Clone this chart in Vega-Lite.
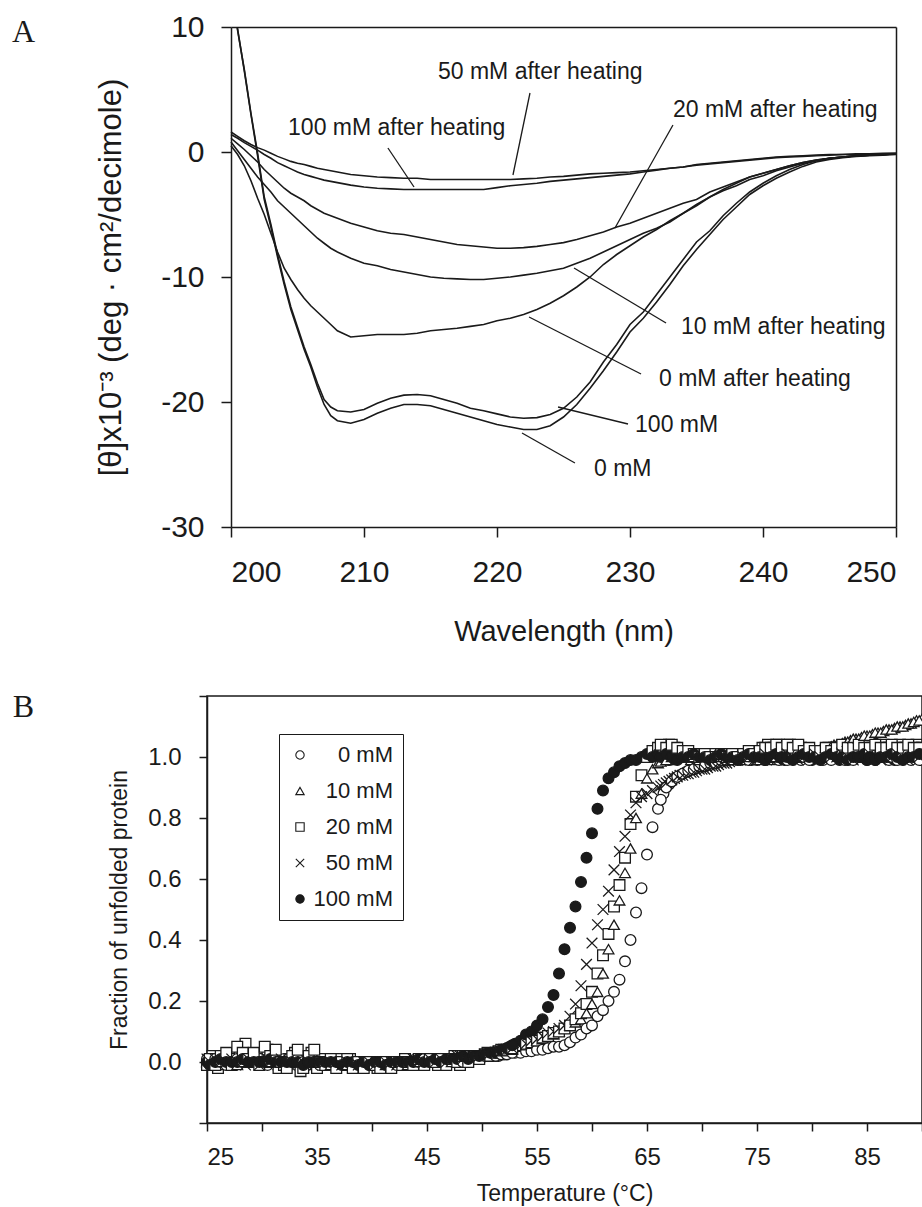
{
"$schema": "https://vega.github.io/schema/vega-lite/v6.json",
"padding": {"left": 11, "top": 12, "right": 0, "bottom": 0},
"config": {
  "font": "Liberation Sans",
  "view": {"stroke": "#1a1a1a", "strokeWidth": 1.5},
  "axis": {"grid": false, "domainColor": "#1a1a1a", "tickColor": "#1a1a1a", "labelColor": "#1a1a1a", "titleColor": "#1a1a1a", "labelFont": "Liberation Sans", "titleFont": "Liberation Sans", "titleFontWeight": "normal", "domainWidth": 1.5, "tickWidth": 1.5},
  "legend": {"labelFont": "Liberation Sans", "labelColor": "#1a1a1a"}
},
"resolve": {"scale": {"shape": "independent", "fill": "independent", "stroke": "independent"}, "legend": {"shape": "independent", "fill": "independent", "stroke": "independent"}},
"concat": [
{
  "width": 689, "height": 500,
  "view": {"stroke": null},
  "resolve": {"axis": {"x": "independent", "y": "independent"}},
  "layer": [
    {
      "data": {"values": [
{"x":200,"n0":13.8,"n100":13.5,"h0":0.5,"h10":0.8,"h20":1.1,"h50":1.6,"h100":1.4},
{"x":200.5,"n0":9.8,"n100":9.7,"h0":-0.2,"h10":0.1,"h20":0.65,"h50":1.25,"h100":1.1},
{"x":201,"n0":6.5,"n100":6.6,"h0":-1.1,"h10":-0.6,"h20":0.2,"h50":0.9,"h100":0.75},
{"x":201.5,"n0":3.0,"n100":3.1,"h0":-2.3,"h10":-1.3,"h20":-0.3,"h50":0.6,"h100":0.45},
{"x":202,"n0":-0.3,"n100":-0.1,"h0":-3.7,"h10":-2.0,"h20":-0.8,"h50":0.35,"h100":0.15},
{"x":202.5,"n0":-3.8,"n100":-3.6,"h0":-5.0,"h10":-2.6,"h20":-1.4,"h50":0.15,"h100":-0.2},
{"x":203,"n0":-6.0,"n100":-5.8,"h0":-6.5,"h10":-3.2,"h20":-1.9,"h50":-0.1,"h100":-0.5},
{"x":203.5,"n0":-8.4,"n100":-8.2,"h0":-8.0,"h10":-3.9,"h20":-2.4,"h50":-0.35,"h100":-0.85},
{"x":204,"n0":-10.6,"n100":-10.4,"h0":-9.3,"h10":-4.4,"h20":-2.9,"h50":-0.55,"h100":-1.1},
{"x":204.5,"n0":-12.6,"n100":-12.4,"h0":-10.2,"h10":-4.9,"h20":-3.3,"h50":-0.75,"h100":-1.35},
{"x":205,"n0":-14.2,"n100":-14.0,"h0":-11.0,"h10":-5.4,"h20":-3.6,"h50":-0.9,"h100":-1.6},
{"x":205.5,"n0":-15.8,"n100":-15.6,"h0":-11.7,"h10":-5.9,"h20":-3.9,"h50":-1.0,"h100":-1.8},
{"x":206,"n0":-17.2,"n100":-17.0,"h0":-12.3,"h10":-6.4,"h20":-4.3,"h50":-1.15,"h100":-1.95},
{"x":206.5,"n0":-18.8,"n100":-18.5,"h0":-12.8,"h10":-6.9,"h20":-4.6,"h50":-1.3,"h100":-2.1},
{"x":207,"n0":-20.2,"n100":-19.8,"h0":-13.3,"h10":-7.3,"h20":-4.9,"h50":-1.4,"h100":-2.25},
{"x":207.5,"n0":-21.1,"n100":-20.4,"h0":-13.8,"h10":-7.7,"h20":-5.1,"h50":-1.5,"h100":-2.35},
{"x":208,"n0":-21.5,"n100":-20.7,"h0":-14.3,"h10":-8.0,"h20":-5.3,"h50":-1.6,"h100":-2.45},
{"x":209,"n0":-21.7,"n100":-20.8,"h0":-14.8,"h10":-8.5,"h20":-5.7,"h50":-1.8,"h100":-2.65},
{"x":210,"n0":-21.4,"n100":-20.6,"h0":-14.7,"h10":-8.9,"h20":-6.0,"h50":-1.9,"h100":-2.8},
{"x":211,"n0":-20.9,"n100":-20.1,"h0":-14.6,"h10":-9.1,"h20":-6.3,"h50":-2.0,"h100":-2.9},
{"x":212,"n0":-20.5,"n100":-19.7,"h0":-14.6,"h10":-9.4,"h20":-6.5,"h50":-2.05,"h100":-2.95},
{"x":213,"n0":-20.2,"n100":-19.45,"h0":-14.6,"h10":-9.6,"h20":-6.6,"h50":-2.1,"h100":-3.0},
{"x":214,"n0":-20.2,"n100":-19.4,"h0":-14.5,"h10":-9.8,"h20":-6.8,"h50":-2.1,"h100":-3.0},
{"x":215,"n0":-20.3,"n100":-19.5,"h0":-14.3,"h10":-10.0,"h20":-7.0,"h50":-2.2,"h100":-3.0},
{"x":216,"n0":-20.6,"n100":-19.8,"h0":-14.2,"h10":-10.1,"h20":-7.2,"h50":-2.2,"h100":-3.0},
{"x":217,"n0":-20.9,"n100":-20.1,"h0":-14.1,"h10":-10.15,"h20":-7.4,"h50":-2.2,"h100":-3.0},
{"x":218,"n0":-21.2,"n100":-20.5,"h0":-13.95,"h10":-10.2,"h20":-7.5,"h50":-2.2,"h100":-3.0},
{"x":219,"n0":-21.5,"n100":-20.7,"h0":-13.8,"h10":-10.2,"h20":-7.6,"h50":-2.2,"h100":-3.0},
{"x":220,"n0":-21.8,"n100":-20.95,"h0":-13.5,"h10":-10.1,"h20":-7.7,"h50":-2.2,"h100":-2.85},
{"x":221,"n0":-22.0,"n100":-21.2,"h0":-13.3,"h10":-10.0,"h20":-7.7,"h50":-2.2,"h100":-2.7},
{"x":222,"n0":-22.2,"n100":-21.3,"h0":-13.0,"h10":-9.85,"h20":-7.65,"h50":-2.15,"h100":-2.6},
{"x":223,"n0":-22.2,"n100":-21.25,"h0":-12.6,"h10":-9.7,"h20":-7.55,"h50":-2.1,"h100":-2.5},
{"x":224,"n0":-21.9,"n100":-21.0,"h0":-12.1,"h10":-9.5,"h20":-7.4,"h50":-2.0,"h100":-2.35},
{"x":225,"n0":-21.2,"n100":-20.5,"h0":-11.5,"h10":-9.3,"h20":-7.25,"h50":-1.95,"h100":-2.25},
{"x":226,"n0":-20.2,"n100":-19.6,"h0":-10.8,"h10":-8.9,"h20":-7.0,"h50":-1.85,"h100":-2.15},
{"x":227,"n0":-18.9,"n100":-18.4,"h0":-10.0,"h10":-8.5,"h20":-6.7,"h50":-1.75,"h100":-2.05},
{"x":228,"n0":-17.5,"n100":-16.8,"h0":-9.0,"h10":-8.0,"h20":-6.4,"h50":-1.7,"h100":-1.95},
{"x":229,"n0":-16.0,"n100":-15.4,"h0":-8.2,"h10":-7.5,"h20":-6.0,"h50":-1.65,"h100":-1.85},
{"x":230,"n0":-14.4,"n100":-13.8,"h0":-7.5,"h10":-7.0,"h20":-5.7,"h50":-1.6,"h100":-1.75},
{"x":231,"n0":-13.3,"n100":-12.8,"h0":-6.8,"h10":-6.5,"h20":-5.3,"h50":-1.5,"h100":-1.6},
{"x":232,"n0":-12.0,"n100":-11.4,"h0":-6.2,"h10":-6.1,"h20":-4.9,"h50":-1.4,"h100":-1.45},
{"x":233,"n0":-10.6,"n100":-10.0,"h0":-5.5,"h10":-5.6,"h20":-4.5,"h50":-1.3,"h100":-1.3},
{"x":234,"n0":-9.1,"n100":-8.6,"h0":-4.9,"h10":-4.9,"h20":-4.1,"h50":-1.2,"h100":-1.2},
{"x":235,"n0":-7.8,"n100":-7.2,"h0":-4.2,"h10":-4.3,"h20":-3.8,"h50":-1.0,"h100":-1.05},
{"x":236,"n0":-6.6,"n100":-6.3,"h0":-3.6,"h10":-3.6,"h20":-3.2,"h50":-0.9,"h100":-0.95},
{"x":237,"n0":-5.4,"n100":-5.1,"h0":-3.1,"h10":-3.0,"h20":-2.8,"h50":-0.8,"h100":-0.85},
{"x":238,"n0":-4.4,"n100":-4.1,"h0":-2.7,"h10":-2.5,"h20":-2.4,"h50":-0.7,"h100":-0.75},
{"x":239,"n0":-3.4,"n100":-3.2,"h0":-2.2,"h10":-2.0,"h20":-2.0,"h50":-0.6,"h100":-0.65},
{"x":240,"n0":-2.7,"n100":-2.5,"h0":-1.9,"h10":-1.7,"h20":-1.7,"h50":-0.5,"h100":-0.55},
{"x":241,"n0":-2.1,"n100":-1.9,"h0":-1.5,"h10":-1.4,"h20":-1.4,"h50":-0.4,"h100":-0.45},
{"x":242,"n0":-1.6,"n100":-1.4,"h0":-1.2,"h10":-1.1,"h20":-1.1,"h50":-0.35,"h100":-0.4},
{"x":243,"n0":-1.15,"n100":-1.0,"h0":-0.9,"h10":-0.85,"h20":-0.85,"h50":-0.3,"h100":-0.35},
{"x":244,"n0":-0.8,"n100":-0.7,"h0":-0.7,"h10":-0.65,"h20":-0.65,"h50":-0.25,"h100":-0.3},
{"x":245,"n0":-0.6,"n100":-0.5,"h0":-0.5,"h10":-0.5,"h20":-0.5,"h50":-0.2,"h100":-0.25},
{"x":246,"n0":-0.45,"n100":-0.4,"h0":-0.4,"h10":-0.4,"h20":-0.4,"h50":-0.2,"h100":-0.2},
{"x":247,"n0":-0.35,"n100":-0.3,"h0":-0.3,"h10":-0.3,"h20":-0.3,"h50":-0.15,"h100":-0.2},
{"x":248,"n0":-0.3,"n100":-0.25,"h0":-0.25,"h10":-0.25,"h20":-0.25,"h50":-0.15,"h100":-0.15},
{"x":249,"n0":-0.25,"n100":-0.2,"h0":-0.2,"h10":-0.2,"h20":-0.2,"h50":-0.1,"h100":-0.15},
{"x":250,"n0":-0.2,"n100":-0.15,"h0":-0.15,"h10":-0.15,"h20":-0.15,"h50":-0.1,"h100":-0.1}
      ]},
      "transform": [{"fold": ["n0","n100","h0","h10","h20","h50","h100"], "as": ["series","y"]}],
      "mark": {"type": "line", "clip": true, "strokeWidth": 1.6, "color": "#1a1a1a"},
      "encoding": {
        "x": {"field": "x", "type": "quantitative", "scale": {"domain": [200, 250], "range": [24, 689], "nice": false, "zero": false},
              "axis": {"values": [200,210,220,230,240,250], "title": "Wavelength (nm)", "titleFontSize": 29, "titlePadding": 30, "labelFontSize": 30, "labelPadding": 20, "tickSize": 10}},
        "y": {"field": "y", "type": "quantitative", "scale": {"domain": [-30, 10], "nice": false, "zero": false},
              "axis": {"values": [-30,-20,-10,0,10], "offset": -24, "labelExpr": "replace(datum.label, '−', '-')", "title": "[θ]x10⁻³ (deg · cm²/decimole)", "titleFontSize": 31, "titlePadding": 33, "labelFontSize": 30, "labelPadding": 17, "tickSize": 10}},
        "detail": {"field": "series"}
      }
    },
    {
      "data": {"values": [
        {"x":222.48,"y":4.72,"x2":221.2,"y2":-1.84},
        {"x":211.8,"y":0.32,"x2":213.76,"y2":-2.8},
        {"x":233.23,"y":2.16,"x2":228.87,"y2":-6.08},
        {"x":225.79,"y":-9.28,"x2":232.71,"y2":-13.68},
        {"x":222.41,"y":-13.2,"x2":230.83,"y2":-17.76},
        {"x":224.59,"y":-20.4,"x2":229.85,"y2":-21.76},
        {"x":221.88,"y":-22.48,"x2":225.86,"y2":-24.88}
      ]},
      "mark": {"type": "rule", "strokeWidth": 1.3, "color": "#1a1a1a"},
      "encoding": {
        "x": {"field": "x", "type": "quantitative", "scale": {"domain": [200, 250], "range": [24, 689], "nice": false, "zero": false},
              "axis": {"orient": "top", "domain": true, "ticks": false, "labels": false, "title": null}},
        "y": {"field": "y", "type": "quantitative", "scale": {"domain": [-30, 10], "nice": false, "zero": false},
              "axis": {"orient": "right", "domain": true, "ticks": false, "labels": false, "title": null}},
        "x2": {"field": "x2"}, "y2": {"field": "y2"}
      }
    },
    {
      "data": {"values": [
        {"x":215.56,"y":6.4,"label":"50 mM after heating"},
        {"x":204.29,"y":1.92,"label":"100 mM after heating"},
        {"x":233.23,"y":3.36,"label":"20 mM after heating"},
        {"x":233.83,"y":-14.0,"label":"10 mM after heating"},
        {"x":232.18,"y":-18.16,"label":"0 mM after heating"},
        {"x":230.38,"y":-21.84,"label":"100 mM"},
        {"x":227.29,"y":-25.36,"label":"0 mM"}
      ]},
      "mark": {"type": "text", "align": "left", "baseline": "middle", "fontSize": 23, "color": "#1a1a1a"},
      "encoding": {
        "x": {"field": "x", "type": "quantitative", "scale": {"domain": [200, 250], "range": [24, 689], "nice": false, "zero": false}, "axis": null},
        "y": {"field": "y", "type": "quantitative", "scale": {"domain": [-30, 10], "nice": false, "zero": false}, "axis": null},
        "text": {"field": "label"}
      }
    },
    {
      "data": {"values": [{"x": 184.4, "y": 9.6, "label": "A"}]},
      "mark": {"type": "text", "align": "center", "baseline": "middle", "fontSize": 32, "font": "Liberation Serif", "color": "#1a1a1a"},
      "encoding": {
        "x": {"field": "x", "type": "quantitative", "scale": {"domain": [200, 250], "range": [24, 689], "nice": false, "zero": false}, "axis": null},
        "y": {"field": "y", "type": "quantitative", "scale": {"domain": [-30, 10], "nice": false, "zero": false}, "axis": null},
        "text": {"field": "label"}
      }
    }
  ]
},
{
  "width": 715, "height": 427,
  "layer": [
    {
      "data": {"values": [
{"t":25,"a":0.01,"b":0,"c":-0.01,"d":0.01,"e":0},
{"t":25.5,"a":0,"b":0.01,"c":0.02,"d":-0.01,"e":0.01},
{"t":26,"a":-0.01,"b":0,"c":-0.02,"d":0,"e":0},
{"t":26.5,"a":0.01,"b":-0.01,"c":0.01,"d":0.01,"e":0},
{"t":27,"a":0,"b":0.01,"c":0.02,"d":0,"e":0.01},
{"t":27.5,"a":0,"b":0,"c":0.01,"d":0.01,"e":0},
{"t":28,"a":0.01,"b":0,"c":0.04,"d":0,"e":0},
{"t":28.5,"a":0,"b":0.01,"c":0.06,"d":-0.01,"e":0.01},
{"t":29,"a":0,"b":0,"c":0.02,"d":0.01,"e":0},
{"t":29.5,"a":0.01,"b":0,"c":0,"d":0,"e":0},
{"t":30,"a":0,"b":0.01,"c":0.01,"d":0,"e":0},
{"t":30.5,"a":-0.01,"b":0,"c":0.04,"d":0.01,"e":0},
{"t":31,"a":0,"b":0,"c":0.03,"d":0,"e":0},
{"t":31.5,"a":0,"b":-0.01,"c":-0.02,"d":0,"e":0.01},
{"t":32,"a":0.01,"b":0,"c":-0.01,"d":0,"e":0},
{"t":32.5,"a":0,"b":0,"c":0.01,"d":-0.01,"e":0},
{"t":33,"a":0,"b":0.01,"c":0.03,"d":0,"e":0},
{"t":33.5,"a":-0.01,"b":0,"c":-0.03,"d":0,"e":0},
{"t":34,"a":0,"b":0,"c":0.01,"d":0.01,"e":-0.01},
{"t":34.5,"a":0,"b":-0.01,"c":0.03,"d":0,"e":0},
{"t":35,"a":0,"b":0,"c":-0.02,"d":0,"e":0},
{"t":35.5,"a":0,"b":0,"c":0.01,"d":-0.01,"e":0},
{"t":36,"a":-0.01,"b":0,"c":0,"d":0,"e":0},
{"t":36.5,"a":0,"b":-0.01,"c":-0.01,"d":0,"e":-0.01},
{"t":37,"a":0,"b":0,"c":0.01,"d":0,"e":0},
{"t":37.5,"a":-0.01,"b":0,"c":-0.01,"d":-0.01,"e":0},
{"t":38,"a":0,"b":-0.01,"c":0.01,"d":0,"e":-0.01},
{"t":38.5,"a":0,"b":0,"c":-0.01,"d":0,"e":0},
{"t":39,"a":-0.01,"b":0,"c":0,"d":-0.01,"e":0},
{"t":39.5,"a":0,"b":-0.01,"c":-0.01,"d":0,"e":-0.01},
{"t":40,"a":-0.01,"b":0,"c":0,"d":-0.01,"e":0},
{"t":40.5,"a":0,"b":-0.01,"c":-0.02,"d":0,"e":-0.01},
{"t":41,"a":-0.01,"b":0,"c":0,"d":0,"e":0},
{"t":41.5,"a":0,"b":0,"c":-0.01,"d":-0.01,"e":0},
{"t":42,"a":0,"b":-0.01,"c":0,"d":0,"e":0},
{"t":42.5,"a":0,"b":0,"c":-0.01,"d":0,"e":0},
{"t":43,"a":0,"b":0,"c":0.01,"d":0,"e":0},
{"t":43.5,"a":0,"b":0.01,"c":0,"d":0,"e":0},
{"t":44,"a":0.01,"b":0,"c":-0.01,"d":0,"e":0},
{"t":44.5,"a":0,"b":0,"c":0.01,"d":0.01,"e":0},
{"t":45,"a":0,"b":0.01,"c":0,"d":0,"e":0.01},
{"t":45.5,"a":0.01,"b":0,"c":0.01,"d":0.01,"e":0},
{"t":46,"a":0,"b":0.01,"c":-0.01,"d":0,"e":0.01},
{"t":46.5,"a":0.01,"b":0,"c":0.01,"d":0.01,"e":0.01},
{"t":47,"a":0,"b":0.01,"c":0,"d":0.01,"e":0.01},
{"t":47.5,"a":0.01,"b":0.01,"c":0.02,"d":0.01,"e":0.01},
{"t":48,"a":0.01,"b":0.01,"c":-0.01,"d":0.02,"e":0.01},
{"t":48.5,"a":0.01,"b":0.02,"c":0.01,"d":0.01,"e":0.02},
{"t":49,"a":0.01,"b":0.01,"c":0.02,"d":0.02,"e":0.02},
{"t":49.5,"a":0.01,"b":0.02,"c":0.01,"d":0.02,"e":0.02},
{"t":50,"a":0.015,"b":0.02,"c":0.02,"d":0.02,"e":0.02},
{"t":50.5,"a":0.02,"b":0.025,"c":0.03,"d":0.025,"e":0.025},
{"t":51,"a":0.02,"b":0.03,"c":0.02,"d":0.03,"e":0.03},
{"t":51.5,"a":0.02,"b":0.03,"c":0.035,"d":0.035,"e":0.035},
{"t":52,"a":0.025,"b":0.035,"c":0.04,"d":0.04,"e":0.04},
{"t":52.5,"a":0.03,"b":0.04,"c":0.04,"d":0.045,"e":0.05},
{"t":53,"a":0.03,"b":0.045,"c":0.05,"d":0.05,"e":0.06},
{"t":53.5,"a":0.03,"b":0.05,"c":0.055,"d":0.055,"e":0.07},
{"t":54,"a":0.035,"b":0.055,"c":0.06,"d":0.06,"e":0.09},
{"t":54.5,"a":0.035,"b":0.06,"c":0.065,"d":0.07,"e":0.1},
{"t":55,"a":0.04,"b":0.07,"c":0.07,"d":0.075,"e":0.12},
{"t":55.5,"a":0.04,"b":0.075,"c":0.08,"d":0.085,"e":0.14},
{"t":56,"a":0.045,"b":0.085,"c":0.085,"d":0.095,"e":0.18},
{"t":56.5,"a":0.05,"b":0.09,"c":0.095,"d":0.1,"e":0.22},
{"t":57,"a":0.05,"b":0.1,"c":0.1,"d":0.11,"e":0.29},
{"t":57.5,"a":0.055,"b":0.11,"c":0.11,"d":0.12,"e":0.37},
{"t":58,"a":0.065,"b":0.12,"c":0.12,"d":0.15,"e":0.44},
{"t":58.5,"a":0.08,"b":0.13,"c":0.14,"d":0.19,"e":0.51},
{"t":59,"a":0.09,"b":0.14,"c":0.16,"d":0.25,"e":0.59},
{"t":59.5,"a":0.11,"b":0.16,"c":0.19,"d":0.32,"e":0.67},
{"t":60,"a":0.12,"b":0.19,"c":0.23,"d":0.39,"e":0.75},
{"t":60.5,"a":0.15,"b":0.23,"c":0.29,"d":0.45,"e":0.83},
{"t":61,"a":0.17,"b":0.29,"c":0.35,"d":0.5,"e":0.89},
{"t":61.5,"a":0.2,"b":0.37,"c":0.42,"d":0.56,"e":0.93},
{"t":62,"a":0.23,"b":0.45,"c":0.51,"d":0.63,"e":0.95},
{"t":62.5,"a":0.27,"b":0.53,"c":0.58,"d":0.69,"e":0.97},
{"t":63,"a":0.33,"b":0.62,"c":0.67,"d":0.74,"e":0.98},
{"t":63.5,"a":0.4,"b":0.7,"c":0.78,"d":0.81,"e":0.99},
{"t":64,"a":0.49,"b":0.8,"c":0.87,"d":0.85,"e":0.99},
{"t":64.5,"a":0.57,"b":0.88,"c":0.94,"d":0.87,"e":1.0},
{"t":65,"a":0.68,"b":0.93,"c":1.0,"d":0.88,"e":1.01},
{"t":65.5,"a":0.77,"b":0.96,"c":1.02,"d":0.89,"e":1.0},
{"t":66,"a":0.83,"b":0.98,"c":1.03,"d":0.9,"e":1.01},
{"t":66.5,"a":0.88,"b":0.99,"c":1.03,"d":0.91,"e":1.0},
{"t":67,"a":0.91,"b":0.99,"c":1.04,"d":0.92,"e":0.99},
{"t":67.5,"a":0.93,"b":1.0,"c":1.03,"d":0.93,"e":1.0},
{"t":68,"a":0.94,"b":1.01,"c":1.02,"d":0.94,"e":1.01},
{"t":68.5,"a":0.95,"b":1.0,"c":1.02,"d":0.945,"e":1.0},
{"t":69,"a":0.96,"b":0.99,"c":1.01,"d":0.95,"e":1.0},
{"t":69.5,"a":0.965,"b":1.0,"c":1.01,"d":0.955,"e":0.99},
{"t":70,"a":0.97,"b":1.01,"c":1.0,"d":0.96,"e":1.0},
{"t":70.5,"a":0.975,"b":1.0,"c":1.0,"d":0.965,"e":1.01},
{"t":71,"a":0.98,"b":1.0,"c":1.01,"d":0.97,"e":1.0},
{"t":71.5,"a":0.985,"b":0.99,"c":1.0,"d":0.975,"e":1.0},
{"t":72,"a":0.99,"b":1.0,"c":1.0,"d":0.98,"e":0.99},
{"t":72.5,"a":0.99,"b":1.01,"c":1.01,"d":0.985,"e":1.0},
{"t":73,"a":1.0,"b":1.0,"c":1.01,"d":0.99,"e":1.01},
{"t":73.5,"a":0.99,"b":1.0,"c":1.0,"d":0.99,"e":1.0},
{"t":74,"a":1.01,"b":0.99,"c":1.01,"d":1.0,"e":1.0},
{"t":74.5,"a":1.0,"b":1.0,"c":1.01,"d":1.01,"e":0.99},
{"t":75,"a":0.99,"b":1.01,"c":1.02,"d":1.0,"e":1.0},
{"t":75.5,"a":1.0,"b":1.0,"c":1.03,"d":0.99,"e":1.01},
{"t":76,"a":1.01,"b":1.0,"c":1.04,"d":1.0,"e":1.0},
{"t":76.5,"a":1.0,"b":0.99,"c":1.03,"d":1.0,"e":1.0},
{"t":77,"a":0.99,"b":1.0,"c":1.04,"d":1.01,"e":1.0},
{"t":77.5,"a":1.0,"b":1.01,"c":1.03,"d":1.0,"e":0.99},
{"t":78,"a":1.01,"b":1.0,"c":1.04,"d":0.99,"e":1.0},
{"t":78.5,"a":1.0,"b":1.0,"c":1.03,"d":1.0,"e":1.01},
{"t":79,"a":0.99,"b":1.01,"c":1.03,"d":1.0,"e":1.0},
{"t":79.5,"a":1.0,"b":1.01,"c":1.02,"d":1.01,"e":1.0},
{"t":80,"a":1.01,"b":1.02,"c":1.02,"d":1.0,"e":0.99},
{"t":80.5,"a":1.0,"b":1.02,"c":1.02,"d":0.99,"e":1.0},
{"t":81,"a":0.99,"b":1.03,"c":1.02,"d":1.0,"e":1.0},
{"t":81.5,"a":1.0,"b":1.03,"c":1.03,"d":1.0,"e":1.01},
{"t":82,"a":1.01,"b":1.04,"c":1.03,"d":1.01,"e":1.0},
{"t":82.5,"a":1.0,"b":1.04,"c":1.03,"d":1.0,"e":0.99},
{"t":83,"a":0.99,"b":1.05,"c":1.03,"d":0.99,"e":1.0},
{"t":83.5,"a":1.0,"b":1.055,"c":1.04,"d":1.0,"e":1.0},
{"t":84,"a":1.01,"b":1.06,"c":1.03,"d":1.0,"e":1.01},
{"t":84.5,"a":1.0,"b":1.065,"c":1.03,"d":1.01,"e":1.0},
{"t":85,"a":0.99,"b":1.07,"c":1.04,"d":1.0,"e":0.99},
{"t":85.5,"a":1.0,"b":1.075,"c":1.03,"d":0.99,"e":1.0},
{"t":86,"a":1.01,"b":1.08,"c":1.03,"d":1.0,"e":1.0},
{"t":86.5,"a":1.0,"b":1.085,"c":1.04,"d":1.0,"e":1.01},
{"t":87,"a":0.99,"b":1.09,"c":1.03,"d":1.01,"e":1.0},
{"t":87.5,"a":1.0,"b":1.095,"c":1.03,"d":1.0,"e":0.99},
{"t":88,"a":1.01,"b":1.1,"c":1.04,"d":0.99,"e":1.0},
{"t":88.5,"a":1.0,"b":1.105,"c":1.03,"d":1.0,"e":1.0},
{"t":89,"a":0.99,"b":1.11,"c":1.03,"d":1.0,"e":1.01},
{"t":89.5,"a":1.0,"b":1.12,"c":1.04,"d":1.01,"e":1.0},
{"t":90,"a":1.01,"b":1.125,"c":1.03,"d":1.0,"e":1.0},
{"t":25.25,"a":0,"b":0.01,"c":0.01,"d":0,"e":-0.01},
{"t":25.75,"a":0.01,"b":0,"c":-0.01,"d":0.01,"e":0},
{"t":26.25,"a":0,"b":0,"c":0.02,"d":0,"e":0.01},
{"t":26.75,"a":-0.01,"b":0.01,"c":0.03,"d":0,"e":0},
{"t":27.25,"a":0,"b":0,"c":-0.01,"d":0.01,"e":0},
{"t":27.75,"a":0.01,"b":-0.01,"c":0.05,"d":0,"e":0},
{"t":28.25,"a":0,"b":0,"c":0.03,"d":0,"e":0.01},
{"t":28.75,"a":0,"b":0.01,"c":0.01,"d":0.01,"e":0},
{"t":29.25,"a":0.01,"b":0,"c":0.03,"d":0,"e":0},
{"t":29.75,"a":0,"b":0,"c":-0.01,"d":-0.01,"e":0},
{"t":30.25,"a":0,"b":0.01,"c":0.05,"d":0,"e":0},
{"t":30.75,"a":0,"b":0,"c":0.02,"d":0,"e":0.01},
{"t":31.25,"a":0.01,"b":0,"c":0.04,"d":0,"e":0},
{"t":31.75,"a":0,"b":0,"c":0,"d":0.01,"e":0},
{"t":32.25,"a":0,"b":-0.01,"c":-0.02,"d":0,"e":0},
{"t":32.75,"a":0,"b":0,"c":0.02,"d":0,"e":0},
{"t":33.25,"a":0.01,"b":0,"c":0.04,"d":0,"e":0},
{"t":33.75,"a":0,"b":0,"c":-0.02,"d":0,"e":-0.01},
{"t":34.25,"a":0,"b":0.01,"c":0.02,"d":0,"e":0},
{"t":34.75,"a":0,"b":0,"c":0.04,"d":-0.01,"e":0},
{"t":35.25,"a":-0.01,"b":0,"c":0,"d":0,"e":0},
{"t":35.75,"a":0,"b":0,"c":-0.01,"d":0,"e":0},
{"t":36.25,"a":0,"b":-0.01,"c":0.01,"d":0,"e":0},
{"t":36.75,"a":-0.01,"b":0,"c":-0.02,"d":0,"e":0},
{"t":37.25,"a":0,"b":0,"c":0,"d":-0.01,"e":-0.01},
{"t":37.75,"a":0,"b":-0.01,"c":0.01,"d":0,"e":0},
{"t":38.25,"a":-0.01,"b":0,"c":-0.02,"d":0,"e":0},
{"t":38.75,"a":0,"b":0,"c":0,"d":-0.01,"e":-0.01},
{"t":39.25,"a":0,"b":-0.01,"c":-0.02,"d":0,"e":0},
{"t":39.75,"a":-0.01,"b":0,"c":0,"d":0,"e":-0.01},
{"t":40.25,"a":0,"b":-0.01,"c":-0.01,"d":-0.01,"e":0},
{"t":40.75,"a":-0.01,"b":0,"c":-0.02,"d":0,"e":0},
{"t":41.25,"a":0,"b":-0.01,"c":0,"d":0,"e":-0.01},
{"t":41.75,"a":0,"b":0,"c":-0.02,"d":0,"e":0},
{"t":42.25,"a":-0.01,"b":0,"c":0,"d":-0.01,"e":0},
{"t":42.75,"a":0,"b":0,"c":-0.01,"d":0,"e":0},
{"t":43.25,"a":0,"b":-0.01,"c":0,"d":0,"e":0},
{"t":43.75,"a":0,"b":0,"c":-0.01,"d":0.01,"e":0},
{"t":44.25,"a":0,"b":0,"c":0.01,"d":0,"e":0.01},
{"t":44.75,"a":0.01,"b":0,"c":-0.01,"d":0,"e":0},
{"t":45.25,"a":0,"b":0.01,"c":0.01,"d":0.01,"e":0},
{"t":45.75,"a":0,"b":0,"c":0,"d":0,"e":0.01},
{"t":46.25,"a":0.01,"b":0.01,"c":0.01,"d":0.01,"e":0},
{"t":46.75,"a":0,"b":0.01,"c":-0.01,"d":0,"e":0.01},
{"t":47.25,"a":0.01,"b":0,"c":0.01,"d":0.01,"e":0.01},
{"t":47.75,"a":0.01,"b":0.01,"c":0,"d":0.02,"e":0.01},
{"t":48.25,"a":0,"b":0.02,"c":0.02,"d":0.01,"e":0.02},
{"t":48.75,"a":0.01,"b":0.01,"c":0,"d":0.02,"e":0.01},
{"t":49.25,"a":0.02,"b":0.02,"c":0.02,"d":0.02,"e":0.02},
{"t":49.75,"a":0.01,"b":0.02,"c":0.01,"d":0.02,"e":0.02},
{"t":50.25,"a":0.02,"b":0.025,"c":0.025,"d":0.025,"e":0.025},
{"t":50.75,"a":0.02,"b":0.025,"c":0.02,"d":0.03,"e":0.03},
{"t":51.25,"a":0.02,"b":0.03,"c":0.03,"d":0.03,"e":0.03},
{"t":51.75,"a":0.025,"b":0.035,"c":0.04,"d":0.035,"e":0.04},
{"t":52.25,"a":0.025,"b":0.035,"c":0.04,"d":0.04,"e":0.045},
{"t":52.75,"a":0.03,"b":0.04,"c":0.045,"d":0.045,"e":0.055},
{"t":66.25,"a":0.86,"b":0.985,"c":1.04,"d":0.905,"e":1.0},
{"t":66.75,"a":0.9,"b":0.99,"c":1.03,"d":0.915,"e":1.01},
{"t":67.25,"a":0.92,"b":1.0,"c":1.04,"d":0.925,"e":1.0},
{"t":67.75,"a":0.935,"b":1.0,"c":1.03,"d":0.935,"e":0.99},
{"t":68.25,"a":0.945,"b":1.0,"c":1.02,"d":0.94,"e":1.0},
{"t":68.75,"a":0.955,"b":1.01,"c":1.02,"d":0.945,"e":1.0},
{"t":69.25,"a":0.96,"b":1.0,"c":1.01,"d":0.95,"e":1.01},
{"t":69.75,"a":0.97,"b":0.99,"c":1.0,"d":0.96,"e":1.0},
{"t":70.25,"a":0.97,"b":1.0,"c":1.01,"d":0.96,"e":1.0},
{"t":70.75,"a":0.98,"b":1.0,"c":1.0,"d":0.97,"e":0.99},
{"t":71.25,"a":0.98,"b":1.01,"c":1.0,"d":0.97,"e":1.0},
{"t":71.75,"a":0.99,"b":1.0,"c":1.01,"d":0.98,"e":1.01},
{"t":72.25,"a":0.99,"b":1.0,"c":1.0,"d":0.98,"e":1.0},
{"t":72.75,"a":1.0,"b":0.99,"c":1.01,"d":0.99,"e":1.0},
{"t":73.25,"a":1.0,"b":1.0,"c":1.0,"d":0.99,"e":0.99},
{"t":73.75,"a":1.0,"b":1.01,"c":1.01,"d":1.0,"e":1.0},
{"t":74.25,"a":0.99,"b":1.0,"c":1.02,"d":1.0,"e":1.01},
{"t":74.75,"a":1.01,"b":1.0,"c":1.01,"d":0.99,"e":1.0},
{"t":75.25,"a":1.0,"b":0.99,"c":1.02,"d":1.0,"e":1.0},
{"t":75.75,"a":0.99,"b":1.0,"c":1.03,"d":1.01,"e":0.99},
{"t":76.25,"a":1.0,"b":1.01,"c":1.03,"d":1.0,"e":1.0},
{"t":76.75,"a":1.01,"b":1.0,"c":1.04,"d":0.99,"e":1.01},
{"t":77.25,"a":1.0,"b":1.0,"c":1.03,"d":1.0,"e":1.0},
{"t":77.75,"a":0.99,"b":1.0,"c":1.04,"d":1.01,"e":1.0},
{"t":78.25,"a":1.0,"b":1.01,"c":1.03,"d":1.0,"e":0.99},
{"t":78.75,"a":1.01,"b":1.0,"c":1.04,"d":0.99,"e":1.0},
{"t":79.25,"a":1.0,"b":1.01,"c":1.02,"d":1.0,"e":1.01},
{"t":79.75,"a":0.99,"b":1.015,"c":1.03,"d":1.0,"e":1.0},
{"t":80.25,"a":1.0,"b":1.02,"c":1.02,"d":1.01,"e":1.0},
{"t":80.75,"a":1.01,"b":1.025,"c":1.02,"d":1.0,"e":0.99},
{"t":81.25,"a":1.0,"b":1.03,"c":1.03,"d":0.99,"e":1.0},
{"t":81.75,"a":0.99,"b":1.035,"c":1.02,"d":1.0,"e":1.01},
{"t":82.25,"a":1.0,"b":1.04,"c":1.03,"d":1.0,"e":1.0},
{"t":82.75,"a":1.01,"b":1.045,"c":1.04,"d":1.01,"e":1.0},
{"t":83.25,"a":1.0,"b":1.05,"c":1.03,"d":1.0,"e":0.99},
{"t":83.75,"a":0.99,"b":1.06,"c":1.03,"d":0.99,"e":1.0},
{"t":84.25,"a":1.0,"b":1.06,"c":1.04,"d":1.0,"e":1.0},
{"t":84.75,"a":1.01,"b":1.07,"c":1.03,"d":1.0,"e":1.01},
{"t":85.25,"a":1.0,"b":1.07,"c":1.03,"d":1.01,"e":1.0},
{"t":85.75,"a":0.99,"b":1.08,"c":1.04,"d":1.0,"e":0.99},
{"t":86.25,"a":1.0,"b":1.08,"c":1.03,"d":0.99,"e":1.0},
{"t":86.75,"a":1.01,"b":1.09,"c":1.03,"d":1.0,"e":1.0},
{"t":87.25,"a":1.0,"b":1.09,"c":1.04,"d":1.0,"e":1.01},
{"t":87.75,"a":0.99,"b":1.1,"c":1.03,"d":1.01,"e":1.0},
{"t":88.25,"a":1.0,"b":1.1,"c":1.03,"d":1.0,"e":0.99},
{"t":88.75,"a":1.01,"b":1.11,"c":1.04,"d":0.99,"e":1.0},
{"t":89.25,"a":1.0,"b":1.115,"c":1.03,"d":1.0,"e":1.0},
{"t":89.75,"a":0.99,"b":1.12,"c":1.03,"d":1.0,"e":1.01}
      ]},
      "transform": [{"fold": ["a","b","c","d","e"], "as": ["s","f"]}],
      "mark": {"type": "point", "filled": true, "size": 115, "strokeWidth": 1.3, "opacity": 1},
      "encoding": {
        "x": {"field": "t", "type": "quantitative", "scale": {"domain": [25, 90], "nice": false, "zero": false},
              "axis": {"values": [25,30,35,40,45,50,55,60,65,70,75,80,85,90], "labelExpr": "(datum.value - 25) % 10 == 0 ? datum.label : ''", "title": "Temperature (°C)", "titleFontSize": 23, "titlePadding": 13, "labelFontSize": 24, "labelPadding": 14, "tickSize": 8}},
        "y": {"field": "f", "type": "quantitative", "scale": {"domain": [-0.2, 1.2], "nice": false, "zero": false},
              "axis": {"values": [-0.2,0,0.2,0.4,0.6,0.8,1.0,1.2], "labelExpr": "datum.value < -0.01 || datum.value > 1.01 ? '' : format(datum.value, '.1f')", "title": "Fraction of unfolded protein", "titleFontSize": 23, "titlePadding": 16, "labelFontSize": 24, "labelPadding": 18, "tickSize": 8}},
        "shape": {"field": "s", "type": "nominal",
                  "scale": {"domain": ["a","b","c","d","e"], "range": ["circle","triangle-up","square","M-1,-1L1,1M-1,1L1,-1","circle"]},
                  "legend": {"title": null, "orient": "none", "legendX": 72, "legendY": 38, "strokeColor": "#1a1a1a", "padding": 10, "rowPadding": 14, "labelFontSize": 22, "labelAlign": "right", "labelOffset": 82, "symbolSize": 70, "symbolStrokeWidth": 1.1, "labelExpr": "{'a':'0 mM','b':'10 mM','c':'20 mM','d':'50 mM','e':'100 mM'}[datum.label]"}},
        "fill": {"field": "s", "type": "nominal",
                 "scale": {"domain": ["a","b","c","d","e"], "range": ["white","white","white","white","#1a1a1a"]},
                 "legend": {"title": null, "orient": "none", "legendX": 72, "legendY": 38, "strokeColor": "#1a1a1a", "padding": 10, "rowPadding": 14, "labelFontSize": 22, "labelAlign": "right", "labelOffset": 82, "symbolSize": 70, "symbolStrokeWidth": 1.1, "labelExpr": "{'a':'0 mM','b':'10 mM','c':'20 mM','d':'50 mM','e':'100 mM'}[datum.label]"}},
        "stroke": {"field": "s", "type": "nominal",
                 "scale": {"domain": ["a","b","c","d","e"], "range": ["#1a1a1a","#1a1a1a","#1a1a1a","#1a1a1a","#1a1a1a"]},
                 "legend": {"title": null, "orient": "none", "legendX": 72, "legendY": 38, "strokeColor": "#1a1a1a", "padding": 10, "rowPadding": 14, "labelFontSize": 22, "labelAlign": "right", "labelOffset": 82, "symbolSize": 70, "symbolStrokeWidth": 1.1, "labelExpr": "{'a':'0 mM','b':'10 mM','c':'20 mM','d':'50 mM','e':'100 mM'}[datum.label]"}}
      }
    },
    {
      "data": {"values": [{"t": 8.3, "f": 1.164, "label": "B"}]},
      "mark": {"type": "text", "align": "center", "baseline": "middle", "fontSize": 32, "font": "Liberation Serif", "color": "#1a1a1a"},
      "encoding": {
        "x": {"field": "t", "type": "quantitative", "scale": {"domain": [25, 90], "nice": false, "zero": false}},
        "y": {"field": "f", "type": "quantitative", "scale": {"domain": [-0.2, 1.2], "nice": false, "zero": false}},
        "text": {"field": "label"}
      }
    }
  ]
}
],
"columns": 1,
"align": "none",
"spacing": 44
}
